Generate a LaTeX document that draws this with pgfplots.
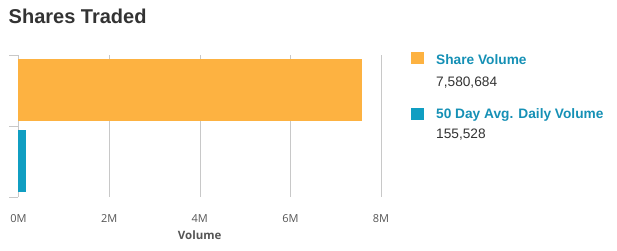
\documentclass[border=0pt]{standalone}
\usepackage{fontspec}
\setmainfont{Liberation Sans}
\newfontfamily\tickfont{Open Sans}
\usepackage{pgfplots}
\pgfplotsset{compat=1.18}
\definecolor{barOrange}{HTML}{FDB241}
\definecolor{barTeal}{HTML}{109EC2}
\definecolor{legTeal}{HTML}{1590B5}
\definecolor{gridGray}{HTML}{C8C8C8}
\definecolor{titleGray}{HTML}{333333}
\definecolor{tickGray}{HTML}{555555}
\begin{document}
\begin{tikzpicture}
\path[use as bounding box] (0,0) rectangle (617pt,251pt);
\begin{axis}[
  at={(18.5pt,54pt)}, anchor=origin,
  scale only axis, width=362.5pt, height=142pt,
  xmin=0, xmax=8000000, ymin=0, ymax=2,
  axis x line*=bottom, axis y line*=left,
  axis line style={-},
  x axis line style={draw=none},
  y axis line style={draw=gridGray},
  xtick={0,2000000,4000000,6000000,8000000},
  xticklabels={0M,2M,4M,6M,8M},
  scaled x ticks=false,
  xtick style={draw=none},
  xticklabel style={font=\tickfont\fontsize{11}{13}\selectfont, text=tickGray, anchor=base, yshift=-17pt},
  ytick={0,1,2}, yticklabels={},
  ytick style={draw=gridGray},
  tick align=outside, major tick length=9pt,
  xmajorgrids, grid style={draw=gridGray},
  xlabel={Volume},
  xlabel style={at={(axis description cs:0.5,0)}, anchor=base, yshift=-42pt, font=\tickfont\bfseries\fontsize{11.5}{13}\selectfont, text=tickGray},
  clip=false,
]
\addplot[xbar, bar width=62pt, bar shift=0pt, fill=barOrange, draw=none] coordinates {(7580684,1.5)};
\addplot[xbar, bar width=62pt, bar shift=0pt, fill=barTeal, draw=none] coordinates {(155528,0.5)};
\end{axis}
\node[anchor=base west, inner sep=0pt, font=\bfseries\fontsize{20}{24}\selectfont, text=titleGray] at (8.5pt,227pt) {Shares Traded};
\fill[barOrange] (411pt,187pt) rectangle (424pt,199pt);
\fill[barTeal] (411pt,131pt) rectangle (424pt,143pt);
\node[anchor=base west, inner sep=0pt, font=\bfseries\fontsize{13.7}{16}\selectfont, text=legTeal] at (436pt,186pt) {Share Volume};
\node[anchor=base west, inner sep=0pt, font=\fontsize{13.7}{16}\selectfont, text=titleGray] at (436pt,164.5pt) {7,580,684};
\node[anchor=base west, inner sep=0pt, font=\bfseries\fontsize{13.7}{16}\selectfont, text=legTeal] at (436pt,132.5pt) {50 Day Avg. Daily Volume};
\node[anchor=base west, inner sep=0pt, font=\fontsize{13.7}{16}\selectfont, text=titleGray] at (436pt,112pt) {155,528};
\end{tikzpicture}
\end{document}
